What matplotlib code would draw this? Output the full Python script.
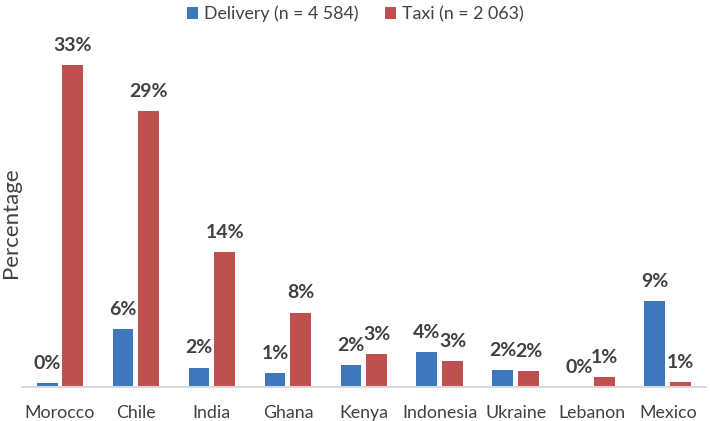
import matplotlib.pyplot as plt
import numpy as np

plt.rcParams['font.family'] = ['Lato', 'DejaVu Sans']

countries = ["Morocco", "Chile", "India", "Ghana", "Kenya", "Indonesia", "Ukraine", "Lebanon", "Mexico"]
delivery = [0.4, 6.0, 2.0, 1.4, 2.3, 3.6, 1.7, 0.0, 8.9]
taxi = [33.4, 28.6, 14.0, 7.7, 3.4, 2.7, 1.6, 1.0, 0.5]
delivery_labels = ["0%", "6%", "2%", "1%", "2%", "4%", "2%", "0%", "9%"]
taxi_labels = ["33%", "29%", "14%", "8%", "3%", "3%", "2%", "1%", "1%"]

blue = "#3D78BE"
red = "#C0504D"
text_col = "#404040"


def main():
    fig = plt.figure(figsize=(7.1, 4.21), dpi=100)
    ax = fig.add_axes([0.031, 0.081, 0.963, 0.848])

    x = np.arange(len(countries))
    w = 0.275
    off = 0.17
    b1 = ax.bar(x - off, delivery, w, color=blue, label="Delivery (n = 4 584)")
    b2 = ax.bar(x + off, taxi, w, color=red, label="Taxi (n = 2 063)")

    for bars, labels in [(b1, delivery_labels), (b2, taxi_labels)]:
        for bar, lab in zip(bars, labels):
            ax.annotate(lab, (bar.get_x() + bar.get_width() / 2, bar.get_height()),
                        xytext=(0, 8), textcoords="offset points",
                        ha="center", va="bottom", fontsize=14, fontweight="bold",
                        color=text_col)

    ax.set_xlim(-0.5, len(countries) - 0.5)
    ax.set_ylim(0, 37)
    ax.set_xticks(x)
    ax.set_xticklabels(countries, fontsize=12.8, color=text_col)
    ax.tick_params(axis="x", length=0, pad=13)
    ax.set_yticks([])
    for s in ["top", "right", "left"]:
        ax.spines[s].set_visible(False)
    ax.spines["bottom"].set_color("#D9D9D9")
    ax.spines["bottom"].set_linewidth(1.5)

    ax.set_ylabel("Percentage", fontsize=16, color=text_col)
    ax.yaxis.set_label_coords(-0.001, 0.46)

    fig.legend(loc="upper center", bbox_to_anchor=(0.5, 1.025), ncol=2, frameon=False,
               fontsize=12.8, handlelength=0.65, handleheight=0.65, handletextpad=0.3,
               columnspacing=1.5, labelcolor=text_col)

    fig.savefig("out.png", dpi=100)


if __name__ == "__main__":
    main()
